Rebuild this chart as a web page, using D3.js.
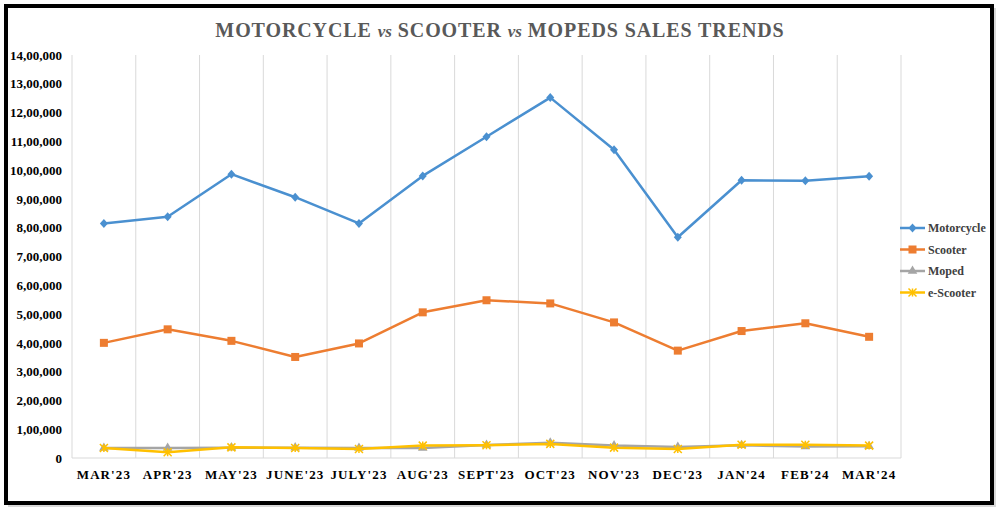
<!DOCTYPE html>
<html>
<head>
<meta charset="utf-8">
<script src="https://cdn.jsdelivr.net/npm/d3@7"></script>
<style>
  body { margin: 0; background: #fff; }
  text { font-family: "Liberation Serif", "DejaVu Serif", serif; }
</style>
</head>
<body>
<svg id="chart" width="1000" height="512"></svg>
<script>
// months on the x axis
let months = ["MAR'23", "APR'23", "MAY'23", "JUNE'23", "JULY'23", "AUG'23", "SEPT'23", "OCT'23", "NOV'23", "DEC'23", "JAN'24", "FEB'24", "MAR'24"];

// sales per month
let motorcycle = [815000, 838000, 986000, 906000, 815000, 980000, 1116000, 1252000, 1071000, 767000, 965000, 963000, 979000];
let scooter = [400000, 447000, 407000, 351000, 398000, 506000, 548000, 537000, 471000, 373000, 441000, 468000, 421000];
let moped = [35000, 35000, 36000, 36000, 35000, 35000, 45000, 53000, 43000, 38000, 44000, 40000, 41000];
let eScooter = [35000, 20000, 37000, 35000, 31000, 43000, 44000, 49000, 36000, 31000, 46000, 46000, 43000];

let yTicks = [0, 100000, 200000, 300000, 400000, 500000, 600000, 700000, 800000, 900000, 1000000, 1100000, 1200000, 1300000, 1400000];

let seriesNames = ["Motorcycle", "Scooter", "Moped", "e-Scooter"];
let seriesColors = ["#4a90d0", "#ed7d31", "#a5a5a5", "#ffc000"];

// indian style number format: 14,00,000
function indianFormat(n) {
    let s = String(n);
    if (s.length <= 3) return s;
    let last3 = s.slice(-3);
    let rest = s.slice(0, -3);
    rest = rest.replace(/\B(?=(\d{2})+(?!\d))/g, ",");
    return rest + "," + last3;
}

let svg = d3.select("#chart");

// outer frame
svg.append("rect")
    .attr("x", 7).attr("y", 7)
    .attr("width", 986).attr("height", 497)
    .attr("fill", "none")
    .attr("stroke", "#d9d9d9")
    .attr("stroke-width", 2)
    .attr("transform", "translate(2,2)");
svg.append("rect")
    .attr("x", 6).attr("y", 6)
    .attr("width", 986).attr("height", 497)
    .attr("fill", "#fff")
    .attr("stroke", "#000")
    .attr("stroke-width", 4);

let x = d3.scaleBand()
    .domain(months)
    .range([72, 901]);

let y = d3.scaleLinear()
    .domain([0, 1400000])
    .range([458, 55]);

// vertical gridlines between categories
svg.append("g")
    .selectAll("line")
    .data(months.concat(["end"]))
    .enter().append("line")
        .attr("x1", (d, i) => i < months.length ? x(d) : x.range()[1])
        .attr("x2", (d, i) => i < months.length ? x(d) : x.range()[1])
        .attr("y1", y(1400000))
        .attr("y2", y(0))
        .attr("stroke", "#d9d9d9")
        .attr("stroke-width", 1);

// baseline
svg.append("line")
    .attr("x1", x.range()[0]).attr("x2", x.range()[1])
    .attr("y1", y(0)).attr("y2", y(0))
    .attr("stroke", "#d9d9d9");

// y axis labels
let yAxis = svg.append("g")
    .attr("transform", "translate(62,0)")
    .call(d3.axisLeft(y).tickValues(yTicks).tickFormat(indianFormat).tickSize(0).tickPadding(0));
yAxis.select(".domain").remove();
yAxis.selectAll("text")
    .style("font-family", "'Liberation Serif', serif")
    .style("font-weight", "bold")
    .style("font-size", "13px")
    .attr("fill", "#000");

// x axis labels
let xAxis = svg.append("g")
    .attr("transform", "translate(0," + y(0) + ")")
    .call(d3.axisBottom(x).tickSize(0).tickPadding(12));
xAxis.select(".domain").remove();
xAxis.selectAll("text")
    .style("font-family", "'Liberation Serif', serif")
    .style("font-weight", "bold")
    .style("font-size", "13px")
    .style("letter-spacing", "1.1px")
    .attr("fill", "#000");

// title
let title = svg.append("text")
    .attr("x", 500)
    .attr("y", 37)
    .attr("text-anchor", "middle")
    .attr("fill", "#595959")
    .style("font-weight", "bold")
    .style("font-size", "20px")
    .style("letter-spacing", "0.9px");
title.append("tspan").text("MOTORCYCLE ");
title.append("tspan").text("vs").style("font-style", "italic").style("font-size", "17px").style("letter-spacing", "0px");
title.append("tspan").text(" SCOOTER ");
title.append("tspan").text("vs").style("font-style", "italic").style("font-size", "17px").style("letter-spacing", "0px");
title.append("tspan").text(" MOPEDS SALES TRENDS");

let allSeries = [motorcycle, scooter, moped, eScooter];
let cx = (d, i) => x(months[i]) + x.bandwidth() / 2;

// marker shapes
function marker(g, type, color) {
    if (type == 0) {
        g.append("path").attr("d", "M0,-4.5L4,0L0,4.5L-4,0Z").attr("fill", color);
    } else if (type == 1) {
        g.append("rect").attr("x", -4).attr("y", -4).attr("width", 8).attr("height", 8).attr("fill", color);
    } else if (type == 2) {
        g.append("path").attr("d", d3.symbol(d3.symbolTriangle, 40)()).attr("fill", color);
    } else {
        g.append("path").attr("d", "M-4,-4L4,4M4,-4L-4,4M0,-4L0,4").attr("stroke", color).attr("stroke-width", 1.5);
    }
}

// lines, yellow drawn last so it sits over grey
[0, 1, 2, 3].forEach(function(s) {
    let data = allSeries[s];
    svg.append("path")
        .datum(data)
        .attr("fill", "none")
        .attr("stroke", seriesColors[s])
        .attr("stroke-width", 2.5)
        .attr("stroke-linejoin", "round")
        .attr("d", d3.line()
            .x(cx)
            .y(d => y(d)));

    svg.append("g")
        .selectAll("g")
        .data(data)
        .enter().append("g")
            .attr("transform", (d, i) => "translate(" + cx(d, i) + "," + y(d) + ")")
            .each(function() { marker(d3.select(this), s, seriesColors[s]); });
});

// legend
let legend = svg.append("g");
seriesNames.forEach(function(name, i) {
    let ly = 228 + i * 21.5;
    legend.append("line")
        .attr("x1", 900).attr("x2", 925)
        .attr("y1", ly).attr("y2", ly)
        .attr("stroke", seriesColors[i])
        .attr("stroke-width", 2.5);
    let g = legend.append("g").attr("transform", "translate(912.5," + ly + ")");
    marker(g, i, seriesColors[i]);
    legend.append("text")
        .attr("x", 928)
        .attr("y", ly + 4)
        .style("font-weight", "bold")
        .style("font-size", "12px")
        .attr("fill", "#404040")
        .text(name);
});
</script>
</body>
</html>
